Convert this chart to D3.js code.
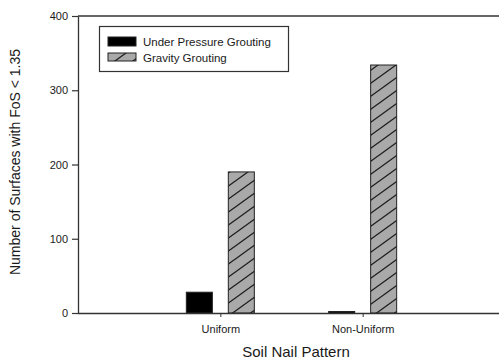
<!DOCTYPE html>
<html>
<head>
<meta charset="utf-8">
<script src="https://cdn.jsdelivr.net/npm/d3@7/dist/d3.min.js"></script>
<style>
  html, body { margin: 0; padding: 0; background: #fff; }
  svg { display: block; font-family: Arial, "Liberation Sans", sans-serif; }
</style>
</head>
<body>
<svg id="chart" width="499" height="360"></svg>
<script>
// Number of slip surfaces with FoS < 1.35 per soil nail pattern
const categories = ["Uniform", "Non-Uniform"];
const seriesNames = ["Under Pressure Grouting", "Gravity Grouting"];
const underPressure = [28, 2];
const gravity = [190, 334];
const yTicks = [0, 100, 200, 300, 400];

const svg = d3.select("#chart");
const margin = { left: 78, top: 16, right: -6, bottom: 47 };
const W = 499, H = 360;
const plotRight = W - margin.right;
const plotBottom = H - margin.bottom;
const ink = "#1a1a1a";

// Hatch pattern for the gravity series
const defs = svg.append("defs");
const pat = defs.append("pattern")
  .attr("id", "hatch")
  .attr("patternUnits", "userSpaceOnUse")
  .attr("width", 18).attr("height", 13);
pat.append("rect").attr("width", 18).attr("height", 13).attr("fill", "#a9a9a9");
pat.append("path")
  .attr("d", "M-9,6.5 L9,-6.5 M0,13 L18,0 M9,19.5 L27,6.5")
  .attr("stroke", "#1e1e1e").attr("stroke-width", 1.3).attr("fill", "none");

const x = d3.scalePoint().domain(categories).range([margin.left, plotRight]).padding(1);
const xInner = d3.scaleBand().domain(seriesNames).range([-34, 34]).paddingInner(0.38);
const y = d3.scaleLinear().domain([0, 400]).range([plotBottom, margin.top]);

const fills = { "Under Pressure Grouting": "#000", "Gravity Grouting": "url(#hatch)" };
const values = { "Under Pressure Grouting": underPressure, "Gravity Grouting": gravity };

// Bars
const rows = [];
categories.forEach((c, i) => seriesNames.forEach(s => rows.push({ c, s, v: values[s][i] })));
svg.append("g").selectAll("rect").data(rows).join("rect")
  .attr("x", d => x(d.c) + xInner(d.s))
  .attr("y", d => y(d.v))
  .attr("width", xInner.bandwidth())
  .attr("height", d => y(0) - y(d.v))
  .attr("fill", d => fills[d.s])
  .attr("stroke", "#222")
  .attr("stroke-width", 1);

// Top frame line
svg.append("line")
  .attr("x1", margin.left).attr("x2", W)
  .attr("y1", margin.top).attr("y2", margin.top)
  .attr("stroke", "#333").attr("stroke-width", 1.3);

// Y axis
const yAxis = svg.append("g")
  .attr("transform", `translate(${margin.left},0)`)
  .call(d3.axisLeft(y).tickValues(yTicks).tickSize(6).tickPadding(4).tickSizeOuter(0));
yAxis.select(".domain").attr("stroke", "#333").attr("stroke-width", 1.3);
yAxis.selectAll(".tick line").attr("stroke", "#333").attr("stroke-width", 1.2);
yAxis.selectAll("text").attr("font-size", 11).attr("fill", ink)
  .attr("font-family", "Arial, 'Liberation Sans', sans-serif");

// X axis
const xAxis = svg.append("g")
  .attr("transform", `translate(0,${plotBottom})`)
  .call(d3.axisBottom(x).tickSize(4).tickPadding(8).tickSizeOuter(0));
xAxis.select(".domain").attr("d", `M${margin.left},0.5H${W}`)
  .attr("stroke", "#333").attr("stroke-width", 1.3);
xAxis.selectAll(".tick line").attr("stroke", "#333").attr("stroke-width", 1);
xAxis.selectAll("text").attr("font-size", 11).attr("fill", ink)
  .attr("font-family", "Arial, 'Liberation Sans', sans-serif");

// Axis titles
svg.append("text")
  .attr("x", 296).attr("y", 357)
  .attr("text-anchor", "middle")
  .attr("font-size", 15).attr("fill", ink)
  .text("Soil Nail Pattern");
svg.append("text")
  .attr("transform", "translate(20,162) rotate(-90)")
  .attr("text-anchor", "middle")
  .attr("font-size", 14).attr("fill", ink)
  .text("Number of Surfaces with FoS < 1.35");

// Legend
const legend = svg.append("g");
legend.append("rect")
  .attr("x", 99.5).attr("y", 26.5).attr("width", 189).attr("height", 45)
  .attr("fill", "#fff").attr("stroke", "#333").attr("stroke-width", 1.2);
seriesNames.forEach((s, i) => {
  const g = legend.append("g").attr("transform", `translate(108,${37 + i * 16})`);
  g.append("rect").attr("width", 28).attr("height", i === 0 ? 9 : 8)
    .attr("fill", fills[s]).attr("stroke", "#222").attr("stroke-width", 1);
  g.append("text").attr("x", 35).attr("y", 8.5)
    .attr("font-size", 11.5).attr("fill", ink).text(s);
});
</script>
</body>
</html>
